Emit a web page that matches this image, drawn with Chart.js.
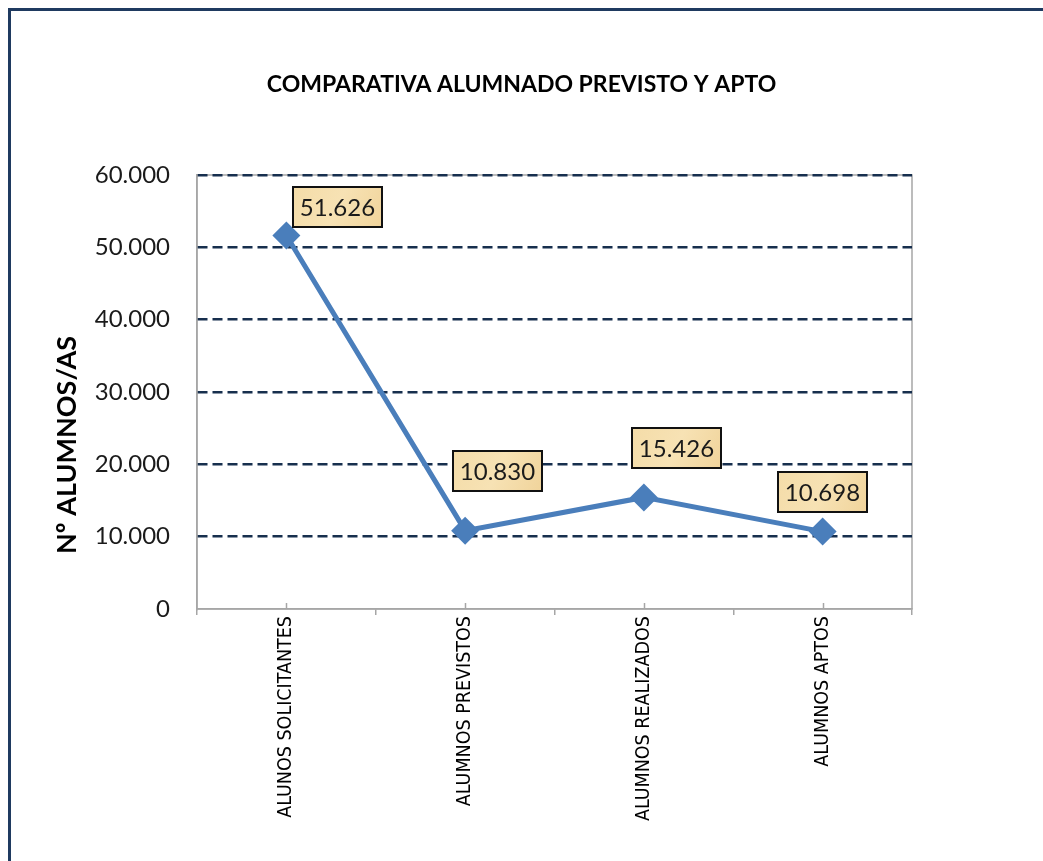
<!DOCTYPE html>
<html>
<head>
<meta charset="utf-8">
<script src="https://cdn.jsdelivr.net/npm/chart.js@4.4.1/dist/chart.umd.min.js"></script>
<style>
html,body{margin:0;padding:0;background:#fff;overflow:hidden;}
#wrap{position:relative;width:1043px;height:861px;overflow:hidden;}
#frame{position:absolute;left:8px;top:8px;width:1100px;height:1000px;border:3px solid #1F3A60;box-sizing:border-box;}
canvas{position:absolute;left:0;top:0;}
</style>
</head>
<body>
<div id="wrap"><div id="frame"></div><canvas id="c" width="1043" height="861"></canvas></div>
<script>
// ---- data ----
const categories = ['ALUNOS SOLICITANTES', 'ALUMNOS PREVISTOS', 'ALUMNOS REALIZADOS', 'ALUMNOS APTOS'];
const alumnos = [51626, 10830, 15426, 10698];
const yTickValues = [0, 10000, 20000, 30000, 40000, 50000, 60000];
const chartTitle = 'COMPARATIVA ALUMNADO PREVISTO Y APTO';
const yAxisTitle = 'Nº ALUMNOS/AS';

// ---- styling ----
const BLUE = '#4A7EBB';
const NAVY = '#172F4E';
const GRAY = '#A6A6A6';
const MAIN_FONT = "Lato, 'Open Sans', sans-serif";
const NARROW_FONT = "'Liberation Sans Narrow', 'DejaVu Sans Condensed', Lato, sans-serif";

function fmt(v) {
  return Math.round(v).toString().replace(/\B(?=(\d{3})+(?!\d))/g, '.');
}

const plotFrame = {
  id: 'plotFrame',
  beforeDraw(chart) {
    const {ctx, chartArea: a} = chart;
    ctx.save();
    ctx.strokeStyle = GRAY;
    ctx.lineWidth = 1.5;
    ctx.strokeRect(a.left, a.top, a.right - a.left, a.bottom - a.top);
    ctx.restore();
  },
  afterDraw(chart) {
    // small inside tick marks at category centres
    const {ctx, chartArea: a} = chart;
    const xs = chart.scales.x;
    ctx.save();
    ctx.strokeStyle = GRAY;
    ctx.lineWidth = 1.5;
    categories.forEach((c, i) => {
      const x = Math.round(xs.getPixelForValue(i)) + 0.5;
      ctx.beginPath();
      ctx.moveTo(x, a.bottom);
      ctx.lineTo(x, a.bottom - 6);
      ctx.stroke();
    });
    ctx.restore();
  }
};

const yTitle = {
  id: 'yTitle',
  afterDraw(chart, args, opts) {
    const {ctx, chartArea: a} = chart;
    ctx.save();
    ctx.translate(opts.x, (a.top + a.bottom) / 2 + opts.dy);
    ctx.rotate(-Math.PI / 2);
    ctx.font = 'bold 27px ' + MAIN_FONT;
    ctx.fillStyle = '#000';
    ctx.textAlign = 'center';
    ctx.textBaseline = 'middle';
    ctx.fillText(yAxisTitle, 0, 0);
    ctx.restore();
  }
};

const labelBoxes = {
  id: 'labelBoxes',
  afterDatasetsDraw(chart, args, opts) {
    const ctx = chart.ctx;
    const meta = chart.getDatasetMeta(0);
    const data = chart.data.datasets[0].data;
    ctx.save();
    ctx.font = '24px ' + MAIN_FONT;
    meta.data.forEach((pt, i) => {
      const txt = fmt(data[i]);
      const [dx, dy] = opts.offsets[i];
      const cx = pt.x + dx, cy = pt.y + dy;
      const w = Math.round(ctx.measureText(txt).width + 2 * opts.padX);
      const h = opts.height;
      const x0 = Math.round(cx - w / 2), y0 = Math.round(cy - h / 2);
      const g = ctx.createLinearGradient(x0, y0, x0 + w, y0 + h);
      g.addColorStop(0, '#F4DCA8');
      g.addColorStop(0.5, '#F7E2B4');
      g.addColorStop(1, '#F0D39A');
      ctx.fillStyle = g;
      ctx.fillRect(x0, y0, w, h);
      ctx.lineWidth = 2;
      ctx.strokeStyle = '#111';
      ctx.strokeRect(x0 + 1, y0 + 1, w - 2, h - 2);
      ctx.fillStyle = '#1a1a1a';
      ctx.textAlign = 'center';
      ctx.textBaseline = 'middle';
      ctx.fillText(txt, x0 + w / 2, y0 + h / 2 + 1);
    });
    ctx.restore();
  }
};

new Chart(document.getElementById('c'), {
  type: 'line',
  data: {
    labels: categories,
    datasets: [{
      data: alumnos,
      borderColor: BLUE,
      backgroundColor: BLUE,
      borderWidth: 5,
      tension: 0,
      pointStyle: 'rectRot',
      pointRadius: 14,
      pointHoverRadius: 14,
      pointBackgroundColor: BLUE,
      pointBorderColor: BLUE,
      pointBorderWidth: 0
    }]
  },
  options: {
    responsive: false,
    animation: false,
    devicePixelRatio: 1,
    layout: {padding: 0},
    plugins: {
      legend: {display: false},
      tooltip: {enabled: false},
      title: {
        display: true,
        text: chartTitle,
        color: '#000',
        font: {family: MAIN_FONT, size: 23, weight: 'bold'},
        padding: {top: 71.2, bottom: 76.2}
      },
      yTitle: {x: 67, dy: 53},
      labelBoxes: {offsets: [[51, -29], [32, -60], [33, -49], [0, -40]], padX: 8, height: 42}
    },
    scales: {
      x: {
        offset: true,
        afterFit(s) { s.height = 252; },
        grid: {display: true, offset: true, drawOnChartArea: false, drawTicks: true, tickLength: 6, color: GRAY, lineWidth: 1.5},
        border: {display: true, color: GRAY, width: 1.5},
        ticks: {
          autoSkip: false, minRotation: 90, maxRotation: 90, padding: 1,
          color: '#000',
          font: {family: NARROW_FONT, size: 19.5}
        }
      },
      y: {
        min: 0, max: 60000,
        afterFit(s) { s.width = 197; },
        afterBuildTicks(s) { s.ticks = yTickValues.map(v => ({value: v})); },
        grid: {
          drawTicks: false,
          color: (c) => (c.tick && c.tick.value === 0) ? 'rgba(0,0,0,0)' : NAVY,
          lineWidth: 2.5
        },
        border: {display: true, color: GRAY, width: 1.5, dash: [10, 5]},
        ticks: {
          padding: 27,
          color: '#1a1a1a',
          font: {family: MAIN_FONT, size: 24},
          callback: (v) => fmt(v)
        }
      },
      yRight: {
        position: 'right',
        display: true,
        afterFit(s) { s.width = 131; },
        grid: {display: false, drawOnChartArea: false},
        border: {display: false},
        ticks: {display: false}
      }
    }
  },
  plugins: [plotFrame, yTitle, labelBoxes]
});
</script>
</body>
</html>
